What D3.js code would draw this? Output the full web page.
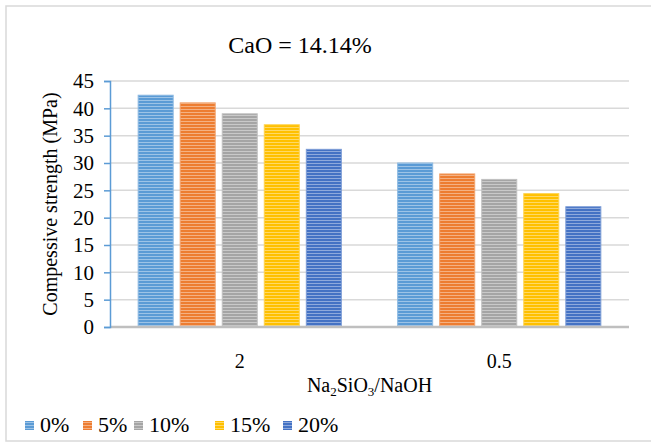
<!DOCTYPE html>
<html>
<head>
<meta charset="utf-8">
<script src="https://cdn.jsdelivr.net/npm/d3@7"></script>
<style>
  body { margin: 0; background: #fff; }
  svg text { font-family: "Liberation Serif", "Times New Roman", serif; fill: #000; }
</style>
</head>
<body>
<div id="chart"></div>
<script>
var ratios = ["2", "0.5"];
var series = ["0%", "5%", "10%", "15%", "20%"];
var colors = ["#5b9bd5", "#ed7d31", "#a5a5a5", "#ffc000", "#4472c4"];
var strength = {
  "0%":  [42.4, 30],
  "5%":  [41, 28],
  "10%": [39, 27],
  "15%": [37, 24.4],
  "20%": [32.5, 22]
};
var yTicks = [0, 5, 10, 15, 20, 25, 30, 35, 40, 45];

var W = 651, H = 443;
var plotL = 110, plotR = 629, plotT = 81, plotB = 327;

var svg = d3.select("#chart").append("svg").attr("width", W).attr("height", H)
  .attr("font-family", "Liberation Serif, Times New Roman, serif");

// chart border
svg.append("rect").attr("x", 6).attr("y", 6).attr("width", 700).attr("height", 435)
  .attr("fill", "none").attr("stroke", "#d9d9d9").attr("stroke-width", 1.5);

// striped fills
var defs = svg.append("defs");
colors.forEach(function(c, i) {
  var p = defs.append("pattern").attr("id", "stripe" + i).attr("patternUnits", "userSpaceOnUse")
    .attr("width", 4).attr("height", 3);
  p.append("rect").attr("width", 4).attr("height", 3).attr("fill", c);
  p.append("rect").attr("y", 1).attr("width", 4).attr("height", 1).attr("fill", d3.interpolateRgb(c, "#fff")(0.4));
});

var y = d3.scaleLinear().domain([0, 45]).range([plotB, plotT]);
var x0 = d3.scaleBand().domain(ratios).range([plotL, plotR]);
var x1 = d3.scaleBand().domain(series).range([0, x0.bandwidth()]).paddingInner(0.167).paddingOuter(0.67);

// gridlines
svg.append("g").selectAll("line").data(yTicks.filter(function(d) { return d > 0; })).enter().append("line")
  .attr("x1", plotL).attr("x2", plotR).attr("y1", function(d) { return y(d); }).attr("y2", function(d) { return y(d); })
  .attr("stroke", "#d9d9d9").attr("stroke-width", 1.5);

// bars
var groups = svg.append("g").selectAll("g").data(ratios).enter().append("g")
  .attr("transform", function(d) { return "translate(" + x0(d) + ",0)"; });

groups.selectAll("rect").data(function(d, j) {
  return series.map(function(s, i) { return {s: s, i: i, v: strength[s][j]}; });
}).enter().append("rect")
  .attr("x", function(d) { return x1(d.s); })
  .attr("y", function(d) { return y(d.v); })
  .attr("width", x1.bandwidth())
  .attr("height", function(d) { return y(0) - y(d.v); })
  .attr("fill", function(d) { return "url(#stripe" + d.i + ")"; })
  .attr("stroke", function(d) { return d3.interpolateRgb(colors[d.i], "#fff")(0.3); })
  .attr("stroke-width", 1);

// baseline
svg.append("line").attr("x1", plotL).attr("x2", plotR).attr("y1", y(0)).attr("y2", y(0))
  .attr("stroke", "#bfbfbf").attr("stroke-width", 2.5);

// y axis
var yAxis = svg.append("g").attr("transform", "translate(" + plotL + ",0)")
  .call(d3.axisLeft(y).tickValues(yTicks).tickSize(6).tickPadding(10).tickSizeOuter(6));
yAxis.selectAll("path, line").attr("stroke", "#5b9bd5").attr("stroke-width", 1.5);
yAxis.selectAll("text").attr("font-size", 21).attr("fill", "#000");

// x labels
svg.append("g").selectAll("text").data(ratios).enter().append("text")
  .attr("x", function(d) { return x0(d) + x0.bandwidth() / 2; })
  .attr("y", 368).attr("text-anchor", "middle").attr("font-size", 20)
  .text(function(d) { return d; });

// titles
svg.append("text").attr("x", 300).attr("y", 53).attr("text-anchor", "middle").attr("font-size", 24)
  .text("CaO = 14.14%");

svg.append("text").attr("transform", "translate(57," + (plotT + plotB) / 2 + ") rotate(-90)")
  .attr("text-anchor", "middle").attr("font-size", 20).text("Compessive strength (MPa)");

var xt = svg.append("text").attr("x", (plotL + plotR) / 2).attr("y", 392).attr("text-anchor", "middle").attr("font-size", 20);
xt.append("tspan").text("Na");
xt.append("tspan").attr("font-size", 13).attr("dy", 4).text("2");
xt.append("tspan").attr("dy", -4).text("SiO");
xt.append("tspan").attr("font-size", 13).attr("dy", 4).text("3");
xt.append("tspan").attr("dy", -4).text("/NaOH");

// legend
var legendX = [25, 83, 134, 215, 283];
var leg = svg.append("g").selectAll("g").data(series).enter().append("g")
  .attr("transform", function(d, i) { return "translate(" + legendX[i] + ",421)"; });
leg.append("rect").attr("width", 9).attr("height", 9)
  .attr("fill", function(d, i) { return "url(#stripe" + i + ")"; });
leg.append("text").attr("x", 15).attr("y", 11).attr("font-size", 22).text(function(d) { return d; });
</script>
</body>
</html>
